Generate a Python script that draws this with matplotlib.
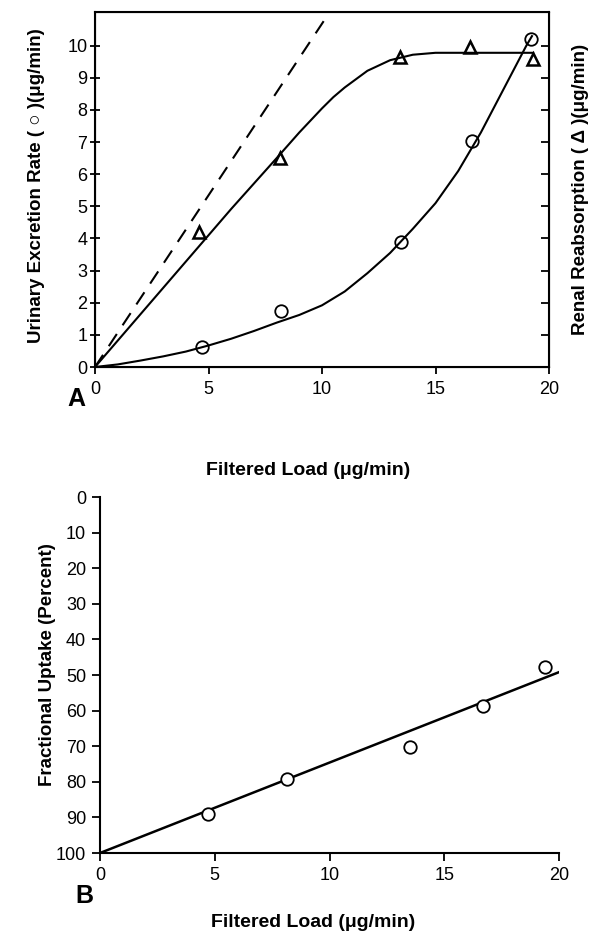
import matplotlib
matplotlib.use("Agg")
import matplotlib.pyplot as plt

plt.rcParams["font.family"] = ["Liberation Sans", "DejaVu Sans"]

# panel A: measured points
excretion_load = [4.7, 8.2, 13.5, 16.6, 19.2]
excretion = [0.62, 1.74, 3.9, 7.05, 10.2]
reabsorption_load = [4.6, 8.15, 13.45, 16.5, 19.3]
reabsorption = [4.2, 6.5, 9.65, 9.97, 9.6]

# panel A: fitted curves
excretion_fit_x = [0, 1, 2, 3, 4, 5, 6, 7, 8, 9, 10, 11, 12, 13, 14, 15, 16, 17, 18, 19, 19.25]
excretion_fit_y = [0, 0.08, 0.2, 0.33, 0.48, 0.67, 0.88, 1.12, 1.38, 1.62, 1.92, 2.35, 2.92,
                   3.55, 4.3, 5.1, 6.1, 7.3, 8.65, 10.0, 10.3]
reabsorption_fit_x = [0, 2, 4, 6, 8, 9, 10, 10.5, 11, 12, 13, 14, 15, 16, 19.3]
reabsorption_fit_y = [0, 1.64, 3.28, 4.92, 6.5, 7.3, 8.05, 8.4, 8.7, 9.22, 9.55, 9.72, 9.78, 9.78, 9.78]
identity_x = [0, 10.2]
identity_y = [0, 10.9]

# panel B
uptake_load = [4.7, 8.15, 13.5, 16.7, 19.4]
uptake = [89.0, 79.3, 70.3, 58.7, 47.8]
uptake_fit_x = [0, 20.0]
uptake_fit_y = [100, 49.2]

x_ticks = [0, 5, 10, 15, 20]
a_yticks = list(range(0, 11))
b_yticks = list(range(0, 101, 10))

fig = plt.figure(figsize=(6.02, 9.36), dpi=100)
W, H = 602, 936


def box(l, t, r, b):
    return [l / W, 1 - b / H, (r - l) / W, (b - t) / H]


# ---------- panel A ----------
ax = fig.add_axes(box(95, 12, 549, 367))
ax.plot(identity_x, identity_y, "k--", lw=1.5, dashes=(7, 5))
ax.plot(reabsorption_fit_x, reabsorption_fit_y, "k-", lw=1.5)
ax.plot(excretion_fit_x, excretion_fit_y, "k-", lw=1.5)
ax.plot(excretion_load, excretion, "o", ms=9, mfc="none", mec="k", mew=1.3)
ax.plot(reabsorption_load, reabsorption, "^", ms=8, mfc="none", mec="k", mew=1.8)
ax.set_xlim(0, 20)
ax.set_ylim(0, 11.05)
ax.set_xticks(x_ticks)
ax.set_yticks(a_yticks)
for s in ax.spines.values():
    s.set_linewidth(1.5)
ax.tick_params(axis="x", direction="out", length=5, width=1.3, labelsize=13, pad=5)
ax.tick_params(axis="y", direction="inout", length=7, width=1.3, labelsize=13, pad=2)
ax.set_ylabel("Urinary Excretion Rate ( ○ )(μg/min)", fontsize=13.5, fontweight="bold")
ax.yaxis.set_label_coords(-0.11, 0.51)
ax.set_xlabel("Filtered Load (μg/min)", fontsize=14, fontweight="bold")
ax.xaxis.set_label_coords(0.47, -0.268)

ax2 = ax.twinx()
ax2.set_ylim(ax.get_ylim())
ax2.set_yticks(a_yticks[1:])
ax2.set_yticklabels([])
ax2.tick_params(axis="y", direction="in", length=6, width=1.3)
ax2.set_ylabel("Renal Reabsorption ( Δ )(μg/min)", fontsize=13.5, fontweight="bold")
ax2.yaxis.set_label_coords(1.05, 0.5)
ax.text(-0.04, -0.09, "A", transform=ax.transAxes, fontsize=18, fontweight="bold",
        ha="center", va="center")

# ---------- panel B ----------
bx = fig.add_axes(box(100, 497, 559, 853))
bx.plot(uptake_fit_x, uptake_fit_y, "k-", lw=1.8)
bx.plot(uptake_load, uptake, "o", ms=9, mfc="white", mec="k", mew=1.3)
bx.set_xlim(0, 20)
bx.set_ylim(100, 0)
bx.set_xticks(x_ticks)
bx.set_yticks(b_yticks)
bx.spines["top"].set_visible(False)
bx.spines["right"].set_visible(False)
for s in ["left", "bottom"]:
    bx.spines[s].set_linewidth(1.5)
bx.tick_params(axis="both", direction="out", length=6, width=1.3, labelsize=13, pad=4)
bx.set_ylabel("Fractional Uptake (Percent)", fontsize=13.5, fontweight="bold")
bx.yaxis.set_label_coords(-0.095, 0.53)
bx.set_xlabel("Filtered Load (μg/min)", fontsize=14, fontweight="bold")
bx.xaxis.set_label_coords(0.465, -0.171)
bx.text(-0.035, -0.12, "B", transform=bx.transAxes, fontsize=18, fontweight="bold",
        ha="center", va="center")

fig.savefig("out.png", dpi=100)
